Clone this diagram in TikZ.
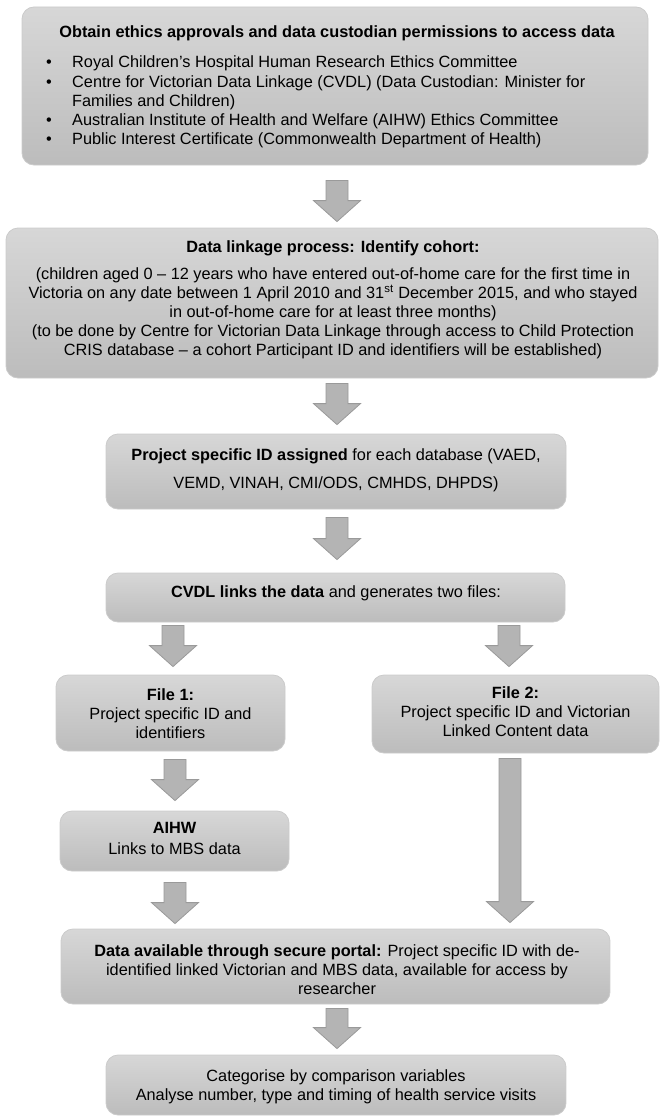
\documentclass[tikz,border=0pt]{standalone}
\usepackage{fontspec}
\setmainfont{Liberation Sans}
\usetikzlibrary{calc}
\definecolor{boxtop}{HTML}{D7D7D7}
\definecolor{boxbot}{HTML}{BCBCBC}
\definecolor{boxline}{HTML}{CBCBCB}
\definecolor{arrfill}{HTML}{B4B4B4}
\definecolor{arrline}{HTML}{9A9A9A}
\newcommand\bodyfont{\fontsize{16.3}{19}\selectfont}
\tikzset{
  flowbox/.style={rectangle, rounded corners=12pt, top color=boxtop, bottom color=boxbot,
    draw=boxline, line width=0.8pt, inner sep=0pt},
  blockarr/.style={fill=arrfill, draw=arrline, line width=0.8pt, line join=miter},
  txt/.style={inner sep=0pt, anchor=base, font=\bodyfont},
}
% #1 source anchor, #2 target anchor, #3 x, #4 gap below source, #5 gap above target
\newcommand\blockarrow[5]{%
  \path[blockarr] let \p1=(#1), \p2=(#2) in
   (#3pt-11pt,\y1-#4pt) -- (#3pt+11pt,\y1-#4pt) -- (#3pt+11pt,\y2+#5pt+21pt)
   -- (#3pt+23.5pt,\y2+#5pt+21pt) -- (#3pt,\y2+#5pt) -- (#3pt-23.5pt,\y2+#5pt+21pt)
   -- (#3pt-11pt,\y2+#5pt+21pt) -- cycle;}
\begin{document}
\begin{tikzpicture}[x=1pt,y=1pt]
\useasboundingbox (0,0) rectangle (660,-1116);

% boxes
\node[flowbox, minimum width=626pt, minimum height=158pt] (ethics) at (335,-86) {};
\node[flowbox, minimum width=652pt, minimum height=150pt] (cohort) at (332,-303) {};
\node[flowbox, minimum width=460pt, minimum height=75pt] (psid) at (336,-471.5) {};
\node[flowbox, minimum width=459pt, minimum height=49pt] (cvdl) at (335.5,-597.5) {};
\node[flowbox, minimum width=229pt, minimum height=76pt] (file1) at (170.5,-713) {};
\node[flowbox, minimum width=287pt, minimum height=78pt] (file2) at (515.5,-714) {};
\node[flowbox, minimum width=229pt, minimum height=60pt] (aihw) at (174.5,-841) {};
\node[flowbox, minimum width=549pt, minimum height=75pt] (portal) at (335.5,-966.5) {};
\node[flowbox, minimum width=460pt, minimum height=60pt] (analyse) at (336,-1085) {};

% texts
\node[txt, font=\bodyfont\bfseries] (ethicsT) at (337,-37.8)
  {Obtain ethics approvals and data custodian permissions to access data};
\node[txt, anchor=base west] (ethicsL) at (46,-67.8) {\parbox[t]{590pt}{\raggedright\fontsize{16.3}{19.2}\selectfont
  \makebox[26pt][l]{•}Royal Children’s Hospital Human Research Ethics Committee\\
  \makebox[26pt][l]{•}Centre for Victorian Data Linkage (CVDL) (Data Custodian: Minister for\\
  \hspace*{26pt}Families and Children)\\
  \makebox[26pt][l]{•}Australian Institute of Health and Welfare (AIHW) Ethics Committee\\
  \makebox[26pt][l]{•}Public Interest Certificate (Commonwealth Department of Health)}};

\node[txt, font=\bodyfont\bfseries] (cohortT) at (333,-252.8) {Data linkage process: Identify cohort:};
\node[txt] (cohortB) at (333,-279.8) {\parbox[t]{650pt}{\centering\bodyfont
  (children aged 0 – 12 years who have entered out-of-home care for the first time in\\
  Victoria on any date between 1 April 2010 and 31\textsuperscript{st} December 2015, and who stayed\\
  in out-of-home care for at least three months)\\
  (to be done by Centre for Victorian Data Linkage through access to Child Protection\\
  CRIS database – a cohort Participant ID and identifiers will be established)}};

\node[txt] (psidT) at (336,-460.8) {\parbox[t]{450pt}{\centering\fontsize{16.3}{28}\selectfont
  \textbf{Project specific ID assigned} for each database (VAED,\\
  VEMD, VINAH, CMI/ODS, CMHDS, DHPDS)}};

\node[txt] (cvdlT) at (336,-597.8) {\textbf{CVDL links the data} and generates two files:};

\node[txt] (file1T) at (170.5,-700.8) {\parbox[t]{220pt}{\centering\bodyfont
  \textbf{File 1:}\\ Project specific ID and\\ identifiers}};
\node[txt] (file2T) at (515.5,-698.8) {\parbox[t]{280pt}{\centering\bodyfont
  \textbf{File 2:}\\ Project specific ID and Victorian\\ Linked Content data}};
\node[txt] (aihwT) at (174.5,-833.8) {\parbox[t]{220pt}{\centering\fontsize{16.3}{20.5}\selectfont
  \textbf{AIHW}\\ Links to MBS data}};
\node[txt] (portalT) at (337,-956.8) {\parbox[t]{540pt}{\centering\fontsize{16.3}{18.6}\selectfont
  \textbf{Data available through secure portal:} Project specific ID with de-\\
  identified linked Victorian and MBS data, available for access by\\
  researcher}};
\node[txt] (analyseT) at (336,-1081.8) {\parbox[t]{450pt}{\centering\fontsize{16.3}{18.3}\selectfont
  Categorise by comparison variables\\
  Analyse number, type and timing of health service visits}};

% arrows
\blockarrow{ethics.south}{cohort.north}{337}{15}{6}
\blockarrow{cohort.south}{psid.north}{337}{5}{9}
\blockarrow{psid.south}{cvdl.north}{337}{8}{13}
\blockarrow{cvdl.south}{file1.north}{173}{3}{8}
\blockarrow{cvdl.south}{file2.north}{509}{3}{8}
\blockarrow{file1.south}{aihw.north}{175}{8}{10}
\blockarrow{file2.south}{portal.north}{510}{5}{6}
\blockarrow{aihw.south}{portal.north}{175}{11}{5}
\blockarrow{portal.south}{analyse.north}{337}{4}{6}
\end{tikzpicture}
\end{document}
